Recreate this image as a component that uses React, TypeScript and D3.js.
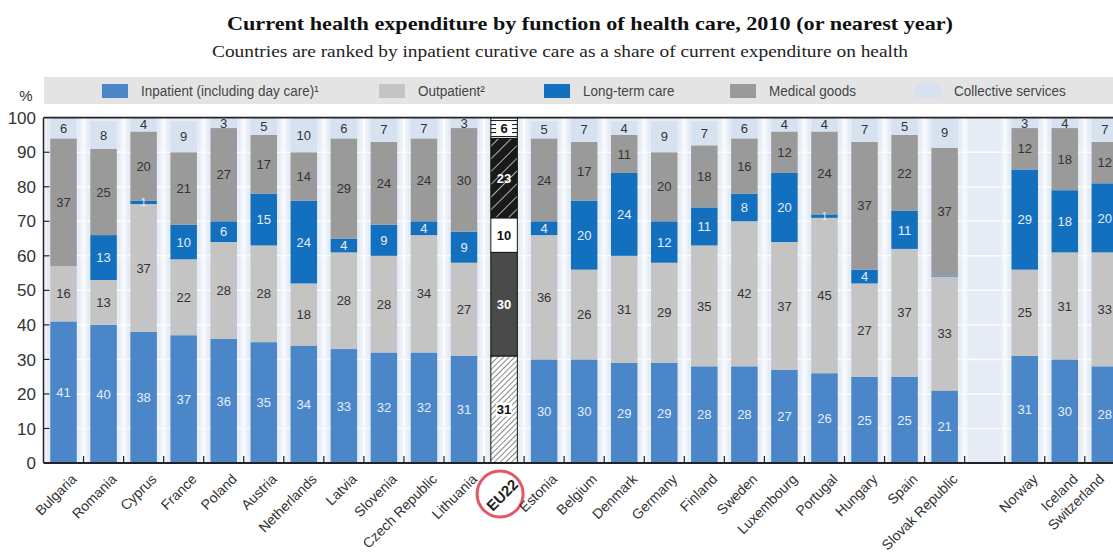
import React from "react";
import * as d3 from "d3";

const countries = [
  "Bulgaria", "Romania", "Cyprus", "France", "Poland", "Austria", "Netherlands", "Latvia",
  "Slovenia", "Czech Republic", "Lithuania", "EU22", "Estonia", "Belgium", "Denmark", "Germany",
  "Finland", "Sweden", "Luxembourg", "Portugal", "Hungary", "Spain", "Slovak Republic",
  "Norway", "Iceland", "Switzerland",
];
const gapAfter = "Slovak Republic";
const inpatient = [41, 40, 38, 37, 36, 35, 34, 33, 32, 32, 31, 31, 30, 30, 29, 29, 28, 28, 27, 26, 25, 25, 21, 31, 30, 28];
const outpatient = [16, 13, 37, 22, 28, 28, 18, 28, 28, 34, 27, 30, 36, 26, 31, 29, 35, 42, 37, 45, 27, 37, 33, 25, 31, 33];
const longTerm = [0, 13, 1, 10, 6, 15, 24, 4, 9, 4, 9, 10, 4, 20, 24, 12, 11, 8, 20, 1, 4, 11, 0.3, 29, 18, 20];
const medical = [37, 25, 20, 21, 27, 17, 14, 29, 24, 24, 30, 23, 24, 17, 11, 20, 18, 16, 12, 24, 37, 22, 37, 12, 18, 12];
const collective = [6, 8, 4, 9, 3, 5, 10, 6, 7, 7, 3, 6, 5, 7, 4, 9, 7, 6, 4, 4, 7, 5, 9, 3, 4, 7];
const yTicks = [0, 10, 20, 30, 40, 50, 60, 70, 80, 90, 100];

const seriesNames = ["Inpatient (including day care)¹", "Outpatient²", "Long-term care", "Medical goods", "Collective services"];
const seriesColors = ["#4a86c8", "#c4c4c4", "#1270bf", "#9a9a9a", "#d7e2f1"];
const labelColors = ["#e6eef8", "#333333", "#e6eef8", "#333333", "#333333"];
const euFills = ["url(#hatchLight)", "#4a4a4a", "#ffffff", "url(#hatchDark)", "url(#hatchHoriz)"];
const euLabelColors = ["#111", "#ffffff", "#111", "#ffffff", "#111"];

const W = 1113;
const H = 556;
const narrow = "'Liberation Sans Narrow', 'Arial Narrow', 'Liberation Sans', sans-serif";

export default function App() {
  const seriesValues = [inpatient, outpatient, longTerm, medical, collective];
  const domain: string[] = [];
  countries.forEach((c) => {
    domain.push(c);
    if (c === gapAfter) domain.push("__gap__");
  });
  const p = 0.338;
  const x = d3.scaleBand<string>().domain(domain).range([43.5, 43.5 + domain.length * 40.05]).paddingInner(p).paddingOuter(p / 2);
  const y = d3.scaleLinear().domain([0, 100]).range([463, 117.7]);
  const step = x.step();
  const bw = x.bandwidth();
  const plotLeft = 43.5;
  const plotRight = W;

  const rows = countries.map((c, i) => {
    let acc = 0;
    const segs = seriesValues.map((vals, s) => {
      const v = vals[i];
      const y0 = acc;
      const y1 = Math.min(100, acc + v);
      acc += v;
      return { s, v, y0, y1 };
    });
    return { c, i, segs };
  });

  const boundaries = d3.range(domain.length + 1).map((k) => plotLeft + k * step);

  return (
    <svg width={W} height={H} style={{ position: "absolute", left: 0, top: 0, background: "#fff" }}>
      <defs>
        <pattern id="hatchLight" patternUnits="userSpaceOnUse" width="4" height="4" patternTransform="rotate(45)">
          <rect width="4" height="4" fill="#fff" />
          <line x1="0" y1="0" x2="0" y2="4" stroke="#222" strokeWidth="1.1" />
        </pattern>
        <pattern id="hatchDark" patternUnits="userSpaceOnUse" width="9" height="9" patternTransform="rotate(45)">
          <rect width="9" height="9" fill="#1a1a1a" />
          <line x1="0" y1="0" x2="0" y2="9" stroke="#fff" strokeWidth="1.3" />
        </pattern>
        <pattern id="hatchHoriz" patternUnits="userSpaceOnUse" width="4" height="4">
          <rect width="4" height="4" fill="#fff" />
          <line x1="0" y1="0.5" x2="4" y2="0.5" stroke="#222" strokeWidth="1.2" />
        </pattern>
        <clipPath id="plotClip">
          <rect x={plotLeft} y={y(100)} width={plotRight - plotLeft} height={y(0) - y(100)} />
        </clipPath>
      </defs>

      {/* Title */}
      <text x={590} y={30} textAnchor="middle" fontFamily="'Liberation Serif', 'DejaVu Serif', serif" fontWeight="bold" fontSize={19.5} fill="#111" textLength={726} lengthAdjust="spacingAndGlyphs">
        Current health expenditure by function of health care, 2010 (or nearest year)
      </text>
      <text x={560} y={57} textAnchor="middle" fontFamily="'Liberation Serif', 'DejaVu Serif', serif" fontSize={16.5} fill="#222" textLength={696} lengthAdjust="spacingAndGlyphs">
        Countries are ranked by inpatient curative care as a share of current expenditure on health
      </text>

      {/* Legend */}
      <rect x={44} y={77} width={W - 44} height={27} fill="#e4e4e4" />
      {seriesNames.map((n, s) => {
        const lx = [102, 379, 544, 730, 915][s];
        return (
          <g key={n}>
            <rect x={lx} y={84} width={26} height={14} fill={seriesColors[s]} />
            <text transform={`translate(${lx + 39},96) scale(0.93,1)`} fontFamily={narrow} fontSize={14.5} fill="#444">{n}</text>
          </g>
        );
      })}

      {/* Plot background */}
      <rect x={plotLeft} y={y(100)} width={plotRight - plotLeft} height={y(0) - y(100)} fill="#e6ecf5" />
      {boundaries.map((b, k) => (
        <rect key={"vb" + k} x={b - 3.5} y={y(100)} width={7} height={y(0) - y(100)} fill="#eef2f9" clipPath="url(#plotClip)" />
      ))}
      {boundaries.map((b, k) => (
        <line key={"vl" + k} x1={b} x2={b} y1={y(100)} y2={y(0)} stroke="#fbfcfe" strokeWidth={2} clipPath="url(#plotClip)" />
      ))}
      {yTicks.filter((t) => t > 0 && t < 100).map((t) => (
        <line key={"g" + t} x1={plotLeft} x2={plotRight} y1={y(t)} y2={y(t)} stroke="#fbfcfe" strokeWidth={1.5} />
      ))}

      {/* Bars */}
      <g clipPath="url(#plotClip)">
        {rows.map((r) => {
          const bx = x(r.c)!;
          const isEU = r.c === "EU22";
          return (
            <g key={r.c}>
              {r.segs.map((sg) =>
                sg.v > 0 ? (
                  <rect
                    key={sg.s}
                    x={bx}
                    y={y(sg.y1)}
                    width={bw}
                    height={Math.max(0.8, y(sg.y0) - y(sg.y1))}
                    fill={isEU ? euFills[sg.s] : seriesColors[sg.s]}
                    stroke={isEU ? "#111" : "none"}
                    strokeWidth={isEU ? 1 : 0}
                  />
                ) : null
              )}
            </g>
          );
        })}
      </g>

      {/* Data labels */}
      {rows.map((r) => {
        const cx = x(r.c)! + bw / 2;
        const isEU = r.c === "EU22";
        return (
          <g key={"l" + r.c}>
            {r.segs.map((sg) => {
              if (sg.v < 1) return null;
              const cy = y((sg.y0 + sg.y1) / 2);
              const label = String(Math.round(sg.v));
              const needBox = isEU && (sg.s === 0 || sg.s === 4);
              return (
                <g key={sg.s}>
                  {needBox ? <rect x={cx - 8} y={cy - 7} width={16} height={14} fill="#fff" /> : null}
                  <text
                    x={cx}
                    y={cy}
                    dy="0.36em"
                    textAnchor="middle"
                    fontFamily={narrow}
                    fontWeight={isEU ? "bold" : "normal"}
                    fontSize={sg.v <= 1 ? 10 : 13}
                    fill={isEU ? euLabelColors[sg.s] : labelColors[sg.s]}
                  >
                    {label}
                  </text>
                </g>
              );
            })}
          </g>
        );
      })}

      {/* Axes */}
      <line x1={plotLeft} x2={plotRight} y1={y(100)} y2={y(100)} stroke="#222" strokeWidth={1.8} />
      <line x1={plotLeft} x2={plotLeft} y1={y(100)} y2={y(0)} stroke="#222" strokeWidth={1.5} />
      <line x1={plotLeft} x2={plotRight} y1={y(0)} y2={y(0)} stroke="#222" strokeWidth={2} />
      {yTicks.filter((t) => t > 0 && t < 100).map((t) => (
        <line key={"yt" + t} x1={plotLeft} x2={plotLeft + 6} y1={y(t)} y2={y(t)} stroke="#222" strokeWidth={1.2} />
      ))}
      {boundaries.slice(1).map((b, k) => (
        <line key={"xt" + k} x1={b} x2={b} y1={y(0)} y2={y(0) - 7} stroke="#222" strokeWidth={1.2} />
      ))}
      {yTicks.map((t) => (
        <text key={"yl" + t} x={36} y={y(t)} dy="0.36em" textAnchor="end" fontFamily={narrow} fontSize={17} fill="#333">
          {t}
        </text>
      ))}
      <text x={26} y={101} textAnchor="middle" fontFamily={narrow} fontSize={15} fill="#333">%</text>

      {/* X labels */}
      {countries.map((c) => {
        const cx = x(c)! + bw / 2;
        const isEU = c === "EU22";
        if (isEU) {
          return (
            <g key={"xl" + c}>
              <text
                transform={`translate(${cx - 2},${495}) rotate(-45)`}
                textAnchor="middle"
                dy="0.36em"
                fontFamily={narrow}
                fontWeight="bold"
                fontSize={15}
                fill="#222"
              >
                {c}
              </text>
              <circle cx={cx - 4} cy={494} r={23} fill="none" stroke="#e0384a" strokeWidth={3} opacity={0.85} />
            </g>
          );
        }
        const ax = Math.min(cx + 7, W - 15);
        return (
          <text
            key={"xl" + c}
            transform={`translate(${ax},${473}) rotate(-45)`}
            textAnchor="end"
            dy="0.7em"
            fontFamily={narrow}
            fontSize={14}
            fill="#333"
          >
            {c}
          </text>
        );
      })}
    </svg>
  );
}
